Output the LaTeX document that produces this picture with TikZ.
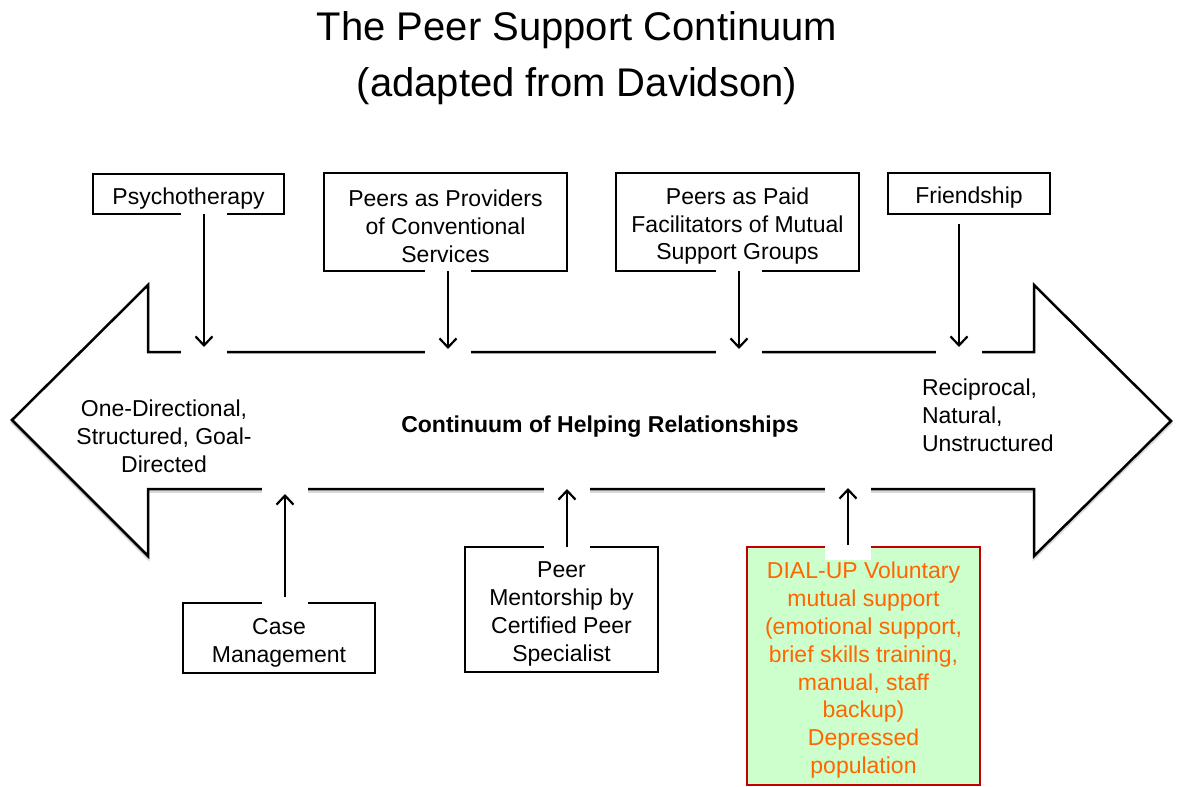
\documentclass[tikz,border=0pt]{standalone}
\usepackage{fontspec}
\setmainfont{Liberation Sans}
\usetikzlibrary{arrows.meta}
\definecolor{dialfill}{HTML}{CCFFCC}
\definecolor{dialedge}{HTML}{C00000}
\definecolor{dialtext}{HTML}{FF6600}
% taller first line, so text sits a little lower in its box
\newcommand\lowerstrut{\rule{0pt}{25pt}}
\begin{document}
\begin{tikzpicture}[x=1pt,y=-1pt,
  every node/.style={inner sep=0pt, outer sep=0pt},
  txt/.style={align=center, font=\fontsize{23}{27.8}\selectfont},
  labelbox/.style={txt, draw=black, line width=1.8pt, fill=white, anchor=north west},
  pointer/.style={line width=2.2pt, -{Straight Barb[length=9pt,width=17pt,line width=2.2pt]}},
  outline/.style={line width=2.5pt, line join=miter}]
\useasboundingbox (0,0) rectangle (1178,787);

% title
\node (title) at (577,58) [align=center, font=\fontsize{40}{56}\selectfont]
  {The Peer Support Continuum\\(adapted from Davidson)};

% double-headed block arrow (soft shadow, then outline)
\draw[outline, gray!30, shift={(0,2.5)}]
  (12,420) -- (148,285) -- (148,352) -- (1034,352) -- (1034,285) -- (1171,421)
  -- (1034,556) -- (1034,489) -- (148,489) -- (148,556) -- cycle;
\draw[outline, fill=white]
  (12,420) -- (148,285) -- (148,352) -- (1034,352) -- (1034,285) -- (1171,421)
  -- (1034,556) -- (1034,489) -- (148,489) -- (148,556) -- cycle;

% labels inside the block arrow
\node (oneway) at (164,436) [txt] {One-Directional,\\Structured, Goal-\\Directed};
\node (middle) at (600,427) [font=\fontsize{23}{27.8}\selectfont\bfseries] {Continuum of Helping Relationships};
\node (recip) at (922,415) [anchor=west, align=left, font=\fontsize{23}{27.8}\selectfont] {Reciprocal,\\Natural,\\Unstructured};

% boxes above the arrow
\node (psy)  at (93,174)  [labelbox, minimum width=191pt, minimum height=40pt] {\lowerstrut Psychotherapy};
\node (prov) at (324,173) [labelbox, minimum width=243pt, minimum height=98pt] {\lowerstrut Peers as Providers\\of Conventional\\Services};
\node (fac)  at (616,173) [labelbox, minimum width=243pt, minimum height=98pt] {\lowerstrut Peers as Paid\\Facilitators of Mutual\\Support Groups};
\node (fr)   at (888,173) [labelbox, minimum width=162pt, minimum height=41pt] {\lowerstrut Friendship};

% boxes below the arrow
\node (case) at (183,603) [labelbox, minimum width=192pt, minimum height=70pt] {\lowerstrut Case\\Management};
\node (ment) at (465,547) [labelbox, minimum width=193pt, minimum height=125pt] {\lowerstrut Peer\\Mentorship by\\Certified Peer\\Specialist};
\node (dial) at (747,547) [labelbox, draw=dialedge, fill=dialfill, text=dialtext, minimum width=233pt, minimum height=238pt]
  {\lowerstrut DIAL-UP Voluntary\\mutual support\\(emotional support,\\brief skills training,\\manual, staff\\backup)\\Depressed\\population};

% arrow tips on the block arrow
\coordinate (t1) at (204,347);
\coordinate (t2) at (448,349);
\coordinate (t3) at (739,349);
\coordinate (t4) at (959,347);
\coordinate (b1) at (285,494);
\coordinate (b2) at (567,489);
\coordinate (b3) at (848,488);

% white clearances around each pointer
\fill[white] (181,211) rectangle (227,358);
\fill[white] (425,268) rectangle (471,358);
\fill[white] (716,268) rectangle (762,358);
\fill[white] (936,219) rectangle (982,358);
\fill[white] (262,483) rectangle (308,606);
\fill[white] (544,483) rectangle (590,550);
\fill[white] (825,483) rectangle (871,560);

% pointers
\draw[pointer] (t1 |- psy.south) -- (t1);
\draw[pointer] (t2 |- prov.south) -- (t2);
\draw[pointer] (t3 |- fac.south) -- (t3);
\draw[pointer] ([yshift=-10pt]t4 |- fr.south) -- (t4);
\draw[pointer] ([yshift=6pt]b1 |- case.north) -- (b1);
\draw[pointer] (b2 |- ment.north) -- (b2);
\draw[pointer] ([yshift=2pt]b3 |- dial.north) -- (b3);
\end{tikzpicture}
\end{document}
